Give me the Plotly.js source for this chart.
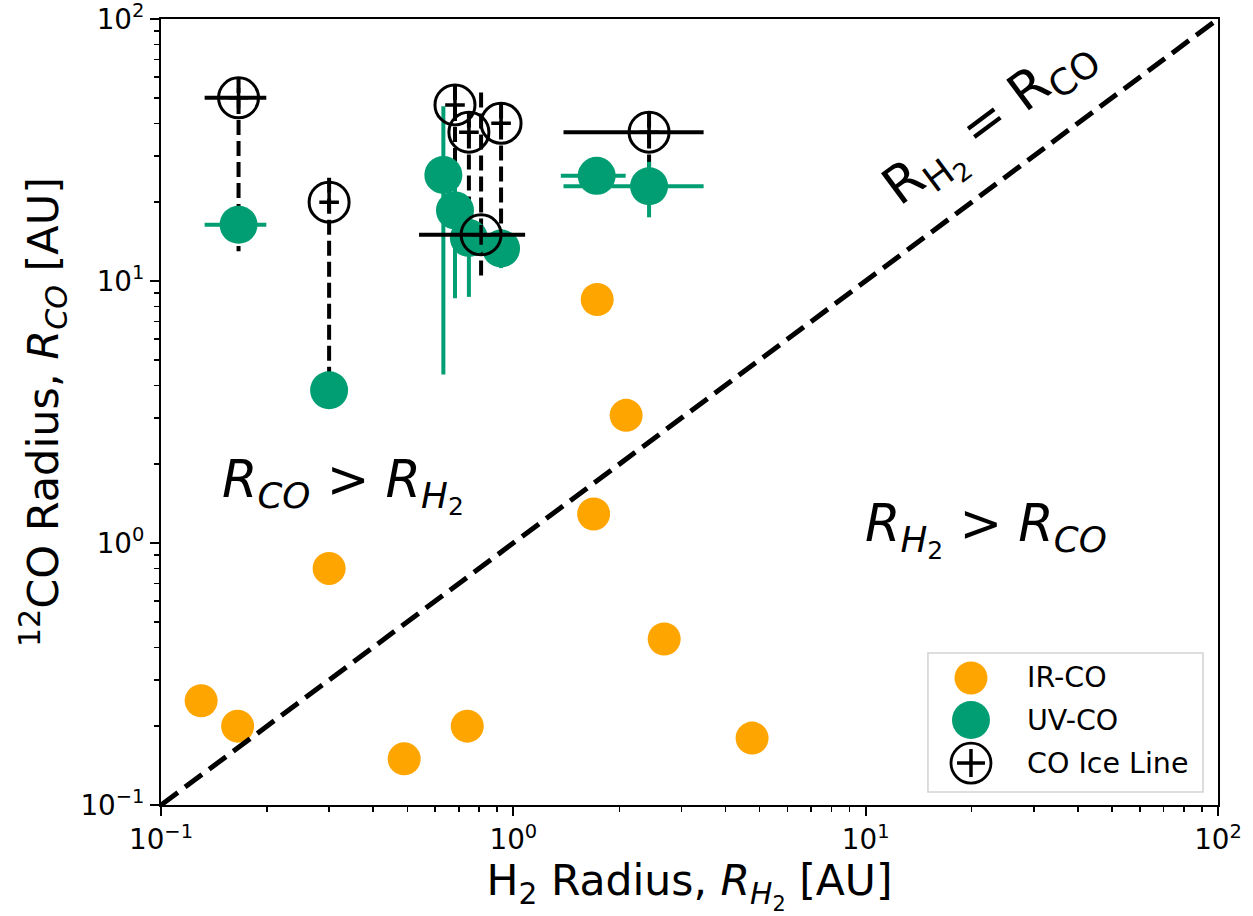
<!DOCTYPE html>
<html>
<head>
<meta charset="utf-8">
<script src="https://cdn.plot.ly/plotly-3.0.1.min.js"></script>
<style>
  html, body { margin: 0; padding: 0; background: #ffffff; }
  #chart { width: 1253px; height: 916px; }
</style>
</head>
<body>
<div id="chart"></div>
<script>
// IR-CO: H2 radius vs 12CO radius [AU]
const irRH2 = [0.13, 0.165, 0.30, 0.49, 0.74, 1.73, 2.09, 1.69, 2.68, 4.76];
const irRCO = [0.25, 0.20, 0.80, 0.15, 0.20, 8.5, 3.07, 1.29, 0.43, 0.18];

// UV-CO: radii with uncertainties [AU]
const uvRH2    = [0.166, 0.300, 0.633, 0.683, 0.748, 0.923, 1.724, 2.428];
const uvRCO    = [16.4, 3.83, 25.4, 18.6, 14.6, 13.3, 25.2, 23.0];
const uvRH2Err = [0.033, 0, 0, 0, 0, 0, 0.36, 1.04];
const uvRCOErr = [0, 0, 21, 10, 5.9, 2.1, 0, 5.5];

// CO ice line radii, with the span of each vertical range [AU]
const iceRH2     = [0.166, 0.300, 0.683, 0.748, 0.923, 0.810, 2.428];
const iceRCO     = [50, 20, 47, 37, 40, 15, 37];
const iceRH2Err  = [0.033, 0, 0, 0, 0, 0.27, 1.04];
const iceRCOHigh = [59.6, 24.8, 56, 44, 47.6, 52.4, 44];
const iceRCOLow  = [13, 3.83, 18.6, 14.6, 13.3, 10.04, 23.0];

// R_H2 = R_CO reference line
const oneToOne = [0.1, 100];

// axis ticks
const tickVals = [0.1, 1, 10, 100];
const tickText = ['10<sup>\u22121</sup>', '10<sup>0</sup>', '10<sup>1</sup>', '10<sup>2</sup>'];

const minorVals = [];
for (const decade of [0.1, 1, 10]) {
  for (let d = 2; d <= 9; d++) minorVals.push(+(d * decade).toPrecision(3));
}

const FONT = 'DejaVu Sans, Verdana, sans-serif';
const ORANGE = '#FFA500';
const GREEN = '#029E73';

// vertical dashed spans of the ice-line points
const spanX = [], spanY = [];
iceRH2.forEach((x, i) => {
  spanX.push(x, x, null);
  spanY.push(iceRCOHigh[i], iceRCOLow[i], null);
});

const traces = [
  {
    x: irRH2, y: irRCO, type: 'scatter', mode: 'markers', name: 'IR-CO',
    marker: { size: 33, color: ORANGE, line: { width: 0 } }
  },
  {
    x: oneToOne, y: oneToOne, type: 'scatter', mode: 'lines',
    line: { color: '#000000', width: 5, dash: '21px,9px' }
  },
  {
    x: spanX, y: spanY, type: 'scatter', mode: 'lines',
    line: { color: '#000000', width: 4, dash: '15px,6px' }
  },
  {
    x: uvRH2, y: uvRCO, type: 'scatter', mode: 'markers', name: 'UV-CO',
    marker: { size: 38, color: GREEN, line: { width: 0 } },
    error_x: { type: 'data', array: uvRH2Err, color: GREEN, thickness: 4, width: 0 },
    error_y: { type: 'data', array: uvRCOErr, color: GREEN, thickness: 4, width: 0 }
  },
  {
    x: iceRH2, y: iceRCO, type: 'scatter', mode: 'markers', name: 'CO Ice Line',
    marker: { size: 40, symbol: 'circle-open', color: '#000000', line: { width: 3, color: '#000000' } },
    error_x: { type: 'data', array: iceRH2Err, color: '#000000', thickness: 4, width: 0 }
  },
  {
    x: iceRH2, y: iceRCO, type: 'scatter', mode: 'markers',
    marker: { size: 14, symbol: 'cross-thin-open', color: '#000000', line: { width: 3.5, color: '#000000' } }
  }
];

const axisCommon = {
  type: 'log',
  range: [-1, 2],
  tickmode: 'array',
  tickvals: tickVals,
  ticktext: tickText,
  ticks: 'outside',
  ticklen: 9,
  tickwidth: 2,
  tickcolor: '#000000',
  ticklabeloverflow: 'allow',
  showline: true,
  linewidth: 2,
  linecolor: '#000000',
  mirror: true,
  showgrid: false,
  zeroline: false,
  tickfont: { family: FONT, size: 27.8, color: '#000000' },
  minor: { tickmode: 'array', tickvals: minorVals, ticks: 'outside', ticklen: 5, tickwidth: 1.5, tickcolor: '#000000', showgrid: false }
};

// legend, drawn as shapes and labels
const LX = 0.7663;
const legendRows = [0.1616, 0.1081, 0.0534];
const px = (ax, ay, x0, x1, y0, y1) => ({
  xref: 'paper', yref: 'paper', xsizemode: 'pixel', ysizemode: 'pixel',
  xanchor: ax, yanchor: ay, x0, x1, y0, y1, layer: 'above'
});

const shapes = [
  { type: 'rect', xref: 'paper', yref: 'paper', x0: 0.7256, x1: 0.9858, y0: 0.0165, y1: 0.1934,
    fillcolor: 'rgba(255,255,255,0.8)', line: { color: '#d4d4d4', width: 1.6 }, layer: 'above' },
  Object.assign(px(LX, legendRows[0], -16.5, 16.5, -16.5, 16.5), { type: 'circle', fillcolor: ORANGE, line: { width: 0 } }),
  Object.assign(px(LX, legendRows[1], -19, 19, -19, 19), { type: 'circle', fillcolor: GREEN, line: { width: 0 } }),
  Object.assign(px(LX, legendRows[2], -20, 20, -20, 20), { type: 'circle', fillcolor: 'rgba(0,0,0,0)', line: { color: '#000000', width: 2.8 } }),
  Object.assign(px(LX, legendRows[2], -14, 14, 0, 0), { type: 'line', line: { color: '#000000', width: 3.5 } }),
  Object.assign(px(LX, legendRows[2], 0, 0, -14, 14), { type: 'line', line: { color: '#000000', width: 3.5 } })
];

const legendLabels = ['IR-CO', 'UV-CO', 'CO Ice Line'];
const annotations = legendLabels.map((t, i) => ({
  text: t, xref: 'paper', yref: 'paper', x: 0.8174, y: legendRows[i],
  xanchor: 'left', yanchor: 'middle', showarrow: false,
  font: { family: FONT, size: 28.5, color: '#000000' }
}));

annotations.push(
  {
    text: '<i>R</i><sub><i>CO</i></sub> > <i>R</i><sub><i>H</i><sub>2</sub></sub>',
    xref: 'paper', yref: 'paper', x: 0.172, y: 0.407, xanchor: 'center', yanchor: 'middle',
    showarrow: false, font: { family: FONT, size: 51, color: '#000000' }
  },
  {
    text: '<i>R</i><sub><i>H</i><sub>2</sub></sub> > <i>R</i><sub><i>CO</i></sub>',
    xref: 'paper', yref: 'paper', x: 0.7805, y: 0.35, xanchor: 'center', yanchor: 'middle',
    showarrow: false, font: { family: FONT, size: 51, color: '#000000' }
  },
  {
    text: 'R<sub>H<sub>2</sub></sub> = R<sub>CO</sub>',
    xref: 'paper', yref: 'paper', x: 0.786, y: 0.867, xanchor: 'center', yanchor: 'middle',
    textangle: -36.7, showarrow: false, font: { family: FONT, size: 52, color: '#000000' }
  }
);

const layout = {
  width: 1253,
  height: 916,
  margin: { l: 161, r: 35, t: 19, b: 111 },
  paper_bgcolor: '#ffffff',
  plot_bgcolor: '#ffffff',
  showlegend: false,
  font: { family: FONT, color: '#000000' },
  xaxis: Object.assign({}, axisCommon, {
    title: { text: 'H<sub>2</sub> Radius, <i>R</i><sub><i>H</i><sub>2</sub></sub> [AU]', font: { family: FONT, size: 42.5, color: '#000000' }, standoff: 6 }
  }),
  yaxis: Object.assign({}, axisCommon, {
    title: { text: '<sup>12</sup>CO Radius, <i>R</i><sub><i>CO</i></sub> [AU]', font: { family: FONT, size: 43, color: '#000000' }, standoff: 8 }
  }),
  shapes: shapes,
  annotations: annotations
};

Plotly.newPlot('chart', traces, layout, { displayModeBar: false, staticPlot: true });
</script>
</body>
</html>
